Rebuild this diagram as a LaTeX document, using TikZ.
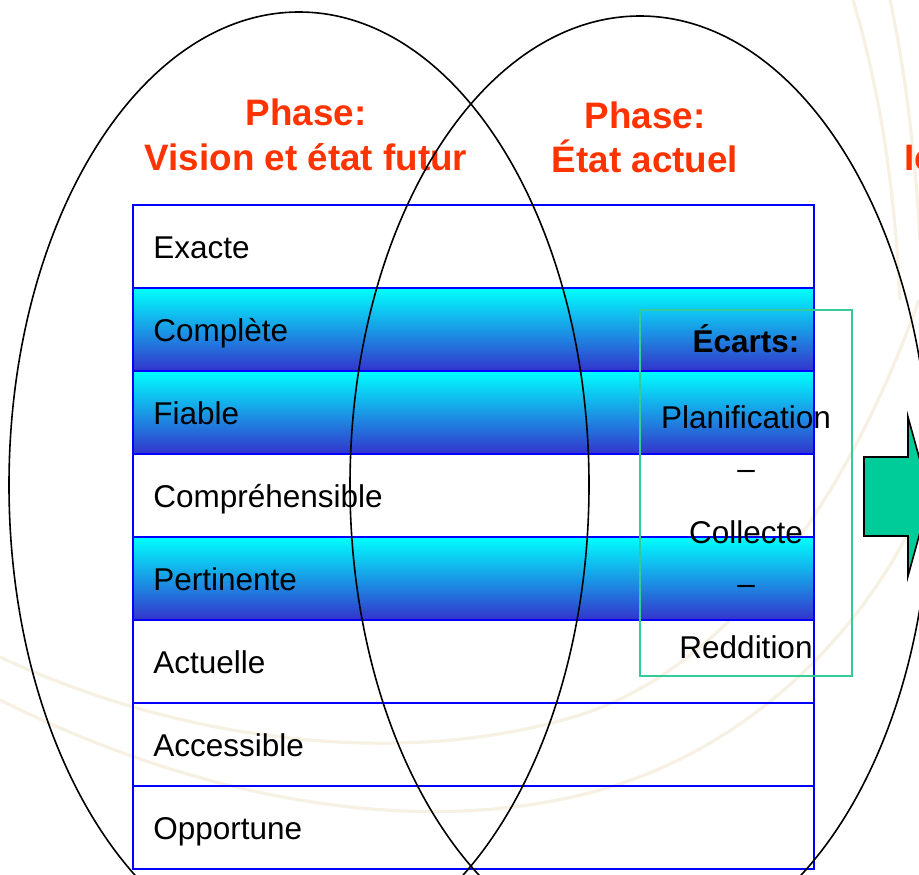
\documentclass[tikz,border=0pt]{standalone}
\usepackage{fontspec}
\setmainfont{Liberation Sans}
\definecolor{phasered}{RGB}{255,51,0}
\definecolor{tableblue}{RGB}{0,0,255}
\definecolor{deepblue}{RGB}{51,51,204}
\definecolor{gapgreen}{RGB}{51,204,153}
\definecolor{arrowgreen}{RGB}{0,204,153}
\definecolor{swirl}{RGB}{246,241,226}
\begin{document}
\begin{tikzpicture}[x=0.5pt,y=-0.5pt,
    rowbox/.style={draw=tableblue, line width=1.2pt, minimum width=340.5pt, minimum height=41.5pt, inner sep=0pt},
    hot/.style={rowbox, top color=cyan, bottom color=deepblue},
    cold/.style={rowbox},
    quality/.style={anchor=base west, inner sep=0pt, font=\fontsize{15.75}{19}\selectfont},
    phase/.style={anchor=base, inner sep=0pt, text=phasered, font=\fontsize{18.4}{22}\selectfont\bfseries},
    gap/.style={anchor=base, inner sep=0pt, font=\fontsize{15.75}{19}\selectfont}]
      \fill[white] (0,0) rectangle (919,874);
      \useasboundingbox (0,0) rectangle (919,874);
      \clip (0,0) rectangle (919,874);

      % faint swirl in the background
      \draw[swirl, line width=1.6pt] (0,657) .. controls (200,750) and (420,765) .. (580,715)
        .. controls (720,670) and (840,520) .. (919,300);
      \draw[swirl, line width=1.6pt] (0,700) .. controls (200,800) and (420,840) .. (600,790)
        .. controls (760,745) and (870,620) .. (919,510);
      \draw[swirl, line width=1.6pt] (853,0) .. controls (880,90) and (895,190) .. (900,300);
      \draw[swirl, line width=1.6pt] (890,0) .. controls (905,70) and (915,150) .. (920,240);

      \foreach \lbl/\kind [count=\i] in {Exacte/cold, Complète/hot, Fiable/hot, Compréhensible/cold,
          Pertinente/hot, Actuelle/cold, Accessible/cold, Opportune/cold} {
        \node[\kind] (row\i) at (473.5,163.5+83*\i) {};
        \node[quality] (q\i) at (153,175.5+83*\i) {\lbl};
      }

      \node[phase] (vision1) at (306,125) {Phase:};
      \node[phase] (vision2) at (306,170) {Vision et état futur};
      \node[phase] (actuel1) at (645,128) {Phase:};
      \node[phase] (actuel2) at (645,172) {État actuel};
      \node[phase, anchor=base west] (ident) at (904,170) {Ic};

      \draw[line width=0.8pt] (299,485) ellipse [x radius=290, y radius=473];
      \draw[line width=0.8pt] (640,485) ellipse [x radius=290, y radius=469];

      \node[draw=gapgreen, line width=1pt, minimum width=106pt, minimum height=183pt, inner sep=0pt] (gaps) at (746,493) {};
      \node[gap] (g0) at (746,352) {\bfseries Écarts:};
      \node[gap] (g1) at (746,428) {Planification};
      \node[gap] (g2) at (746,479) {–};
      \node[gap] (g3) at (746,543) {Collecte};
      \node[gap] (g4) at (746,594) {–};
      \node[gap] (g5) at (746,658) {Reddition};

      \draw[fill=arrowgreen, line width=0.8pt] (864,457) -- (908,457) -- (908,417) -- (930,496.5)
        -- (908,576) -- (908,536) -- (864,536) -- cycle;
    \end{tikzpicture}
\end{document}
